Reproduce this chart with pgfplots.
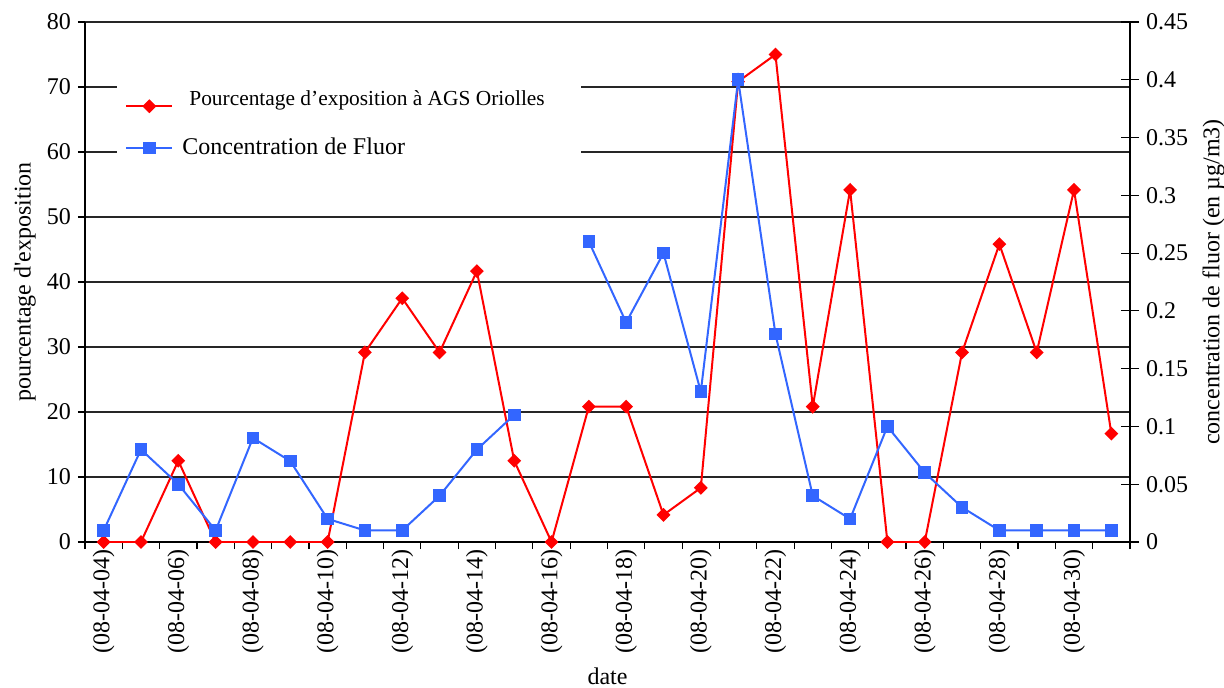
\documentclass[border=0pt]{standalone}
\usepackage{fontspec}
\setmainfont{Liberation Serif}
\usepackage{pgfplots}
\usepackage{pgfplotstable}
\pgfplotsset{compat=1.18}
\definecolor{myred}{RGB}{255,0,0}
\definecolor{myblue}{RGB}{51,102,255}
\pgfplotstableread{
x red blue
0 0 0.01
1 0 0.08
2 12.5 0.05
3 0 0.01
4 0 0.09
5 0 0.07
6 0 0.02
7 29.17 0.01
8 37.5 0.01
9 29.17 0.04
10 41.67 0.08
11 12.5 0.11
12 0 nan
13 20.83 0.26
14 20.83 0.19
15 4.17 0.25
16 8.33 0.13
17 70.83 0.40
18 75 0.18
19 20.83 0.04
20 54.17 0.02
21 0 0.10
22 0 0.06
23 29.17 0.03
24 45.83 0.01
25 29.17 0.01
26 54.17 0.01
27 16.67 0.01
}\data
\begin{document}
\begin{tikzpicture}
\useasboundingbox (-42.5bp,-73bp) rectangle (569.5bp,271bp);
\begin{axis}[
  scale only axis, width=522.5bp, height=260bp,
  xmin=-0.5, xmax=27.5, ymin=0, ymax=80,
  axis x line=bottom, axis y line=left,
  axis line style={-, black, line width=0.6bp},
  xtick={-0.5,0.5,...,27.5}, xticklabels={},
  extra x ticks={0,2,...,26},
  extra x tick labels={(08-04-04),(08-04-06),(08-04-08),(08-04-10),(08-04-12),(08-04-14),(08-04-16),(08-04-18),(08-04-20),(08-04-22),(08-04-24),(08-04-26),(08-04-28),(08-04-30)},
  extra x tick style={major tick length=0pt, xticklabel style={rotate=90, anchor=east}},
  ytick={0,10,...,80},
  ymajorgrids, grid style={black!85, line width=0.6bp},
  tick style={black, line width=0.6bp}, major tick length=3.5bp, tick align=outside,
  tick label style={font=\fontsize{12bp}{14bp}\selectfont},
  /pgf/number format/assume math mode=true,
  every axis x label/.style={at={(axis description cs:0.5,-0.2577)}, anchor=center, inner sep=0pt, font=\fontsize{12bp}{14bp}\selectfont},
  every axis y label/.style={at={(axis description cs:-0.0574,0.5)}, rotate=90, anchor=center, font=\fontsize{12bp}{14bp}\selectfont},
  xlabel={date}, ylabel={pourcentage d\textquotesingle exposition},
]
\addplot[myred, line width=1bp, mark=square*, mark size=1.95bp, mark options={rotate=45, solid}] table[x=x,y=red]{\data};
\end{axis}
\begin{axis}[
  scale only axis, width=522.5bp, height=260bp,
  xmin=-0.5, xmax=27.5, ymin=0, ymax=0.45,
  axis y line=right, axis x line=none,
  axis line style={-, black, line width=0.6bp},
  ytick={0,0.05,0.1,0.15,0.2,0.25,0.3,0.35,0.4,0.45},
  yticklabels={0,0.05,0.1,0.15,0.2,0.25,0.3,0.35,0.4,0.45},
  tick style={black, line width=0.6bp}, major tick length=9bp, tick align=center,
  tick label style={font=\fontsize{12bp}{14bp}\selectfont},
  /pgf/number format/assume math mode=true,
  every axis y label/.style={at={(axis description cs:1.08,0.5)}, rotate=90, anchor=center, font=\fontsize{12bp}{14bp}\selectfont},
  ylabel={concentration de fluor (en µg/m3)},
  unbounded coords=jump,
  legend style={at={(axis description cs:0.0306,0.8885)}, anchor=north west, draw=none, fill=white, inner xsep=4bp, inner ysep=3bp, row sep=4bp},
  legend cell align=left,
  legend image code/.code={\draw[mark repeat=2,mark phase=2,#1] plot coordinates {(0bp,0bp) (11.5bp,0bp) (23bp,0bp)};},
]
\addlegendimage{myred, line width=1bp, mark=square*, mark size=1.95bp, mark options={rotate=45, solid}}
\addlegendentry{\rule{6bp}{0pt}\raisebox{7bp}{\fontsize{10.7bp}{12bp}\selectfont Pourcentage d’exposition à AGS Oriolles}\rule{12bp}{0pt}}
\addplot[myblue, line width=1bp, mark=square*, mark size=2.65bp, mark options={solid}] table[x=x,y=blue]{\data};
\addlegendentry{\rule{2.5bp}{0pt}\fontsize{12bp}{14bp}\selectfont Concentration de Fluor}
\end{axis}
\end{tikzpicture}
\end{document}
